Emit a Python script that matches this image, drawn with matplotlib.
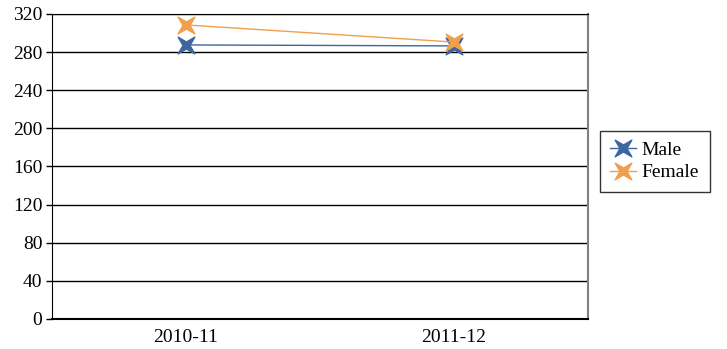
import numpy as np
import matplotlib
matplotlib.use("Agg")
from matplotlib import pyplot as plt
from matplotlib.path import Path

# data
years = ["2010-11", "2011-12"]
male = [287.5, 286.5]
female = [308.5, 290.5]
yticks = [0, 40, 80, 120, 160, 200, 240, 280, 320]

plt.rcParams['font.family'] = ['Liberation Serif', 'DejaVu Serif']

# four pointed star marker, points on the diagonals
s = 0.42
star = Path([(1, 1), (s, 0), (1, -1), (0, -s), (-1, -1), (-s, 0), (-1, 1), (0, s), (1, 1)],
            [Path.MOVETO] + [Path.LINETO] * 7 + [Path.CLOSEPOLY])

fig = plt.figure(figsize=(7.27, 3.49), dpi=100)
ax = fig.add_axes([0.0715, 0.086, 0.7373, 0.874])

x = np.arange(len(years))
ax.plot(x, male, color='#3d679e', lw=1, marker=star, ms=12, mec='#3d679e', mfc='#3d679e', label='Male')
ax.plot(x, female, color='#f0a04b', lw=1, marker=star, ms=12, mec='#f0a04b', mfc='#f0a04b', label='Female')

ax.set_xlim(-0.5, 1.5)
ax.set_ylim(0, 320)
ax.set_yticks(yticks)
ax.set_xticks(x)
ax.set_xticklabels(years)
ax.yaxis.grid(True, color='black', lw=1)
ax.set_axisbelow(True)
ax.tick_params(axis='x', length=0, labelsize=14, pad=7)
ax.tick_params(axis='y', length=4, width=1, labelsize=14, pad=3)
ax.spines['left'].set_color('black')
ax.spines['bottom'].set_linewidth(1.5)
ax.spines['top'].set_color('black')
ax.spines['right'].set_color('gray')
ax.spines['right'].set_linewidth(1.5)

leg = ax.legend(loc='center left', bbox_to_anchor=(1.022, 0.517), borderaxespad=0,
                fontsize=14, frameon=True, fancybox=False, edgecolor='black',
                handlelength=1.3, handletextpad=0.3, borderpad=0.55,
                labelspacing=0.25, markerscale=1)
leg.get_frame().set_linewidth(1)

fig.savefig('out.png', dpi=100)
